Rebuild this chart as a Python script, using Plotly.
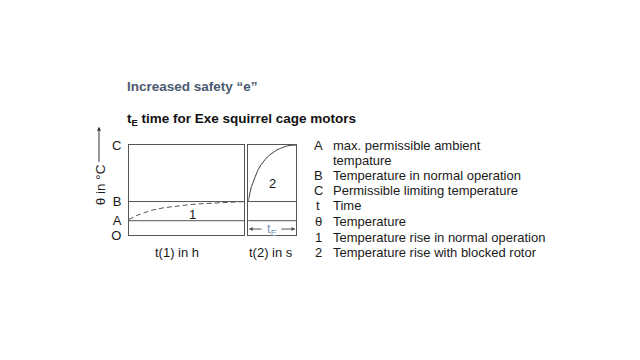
import plotly.graph_objects as go

W, H = 640, 360

# Temperature levels (arbitrary units) and their labels
level_names = ['O', 'A', 'B', 'C']
level_vals = [0, 15, 35, 94]

# Curve 1: temperature rise in normal operation (t(1) in h, arbitrary units)
t1 = [0, 0.25, 0.5, 1, 1.5, 2, 3, 4, 5, 6, 7, 8, 9, 10]
theta1 = [16.3, 18, 19.5, 22, 24.2, 26, 28.5, 30.3, 31.4, 32.5, 33.3, 33.9, 34.4, 35]

# Curve 2: temperature rise with blocked rotor (t(2) in s, arbitrary units)
t2 = [0, 0.1, 0.3, 0.6, 1, 1.5, 2, 2.5, 3, 3.5, 4, 5, 6, 7, 8, 9, 10]
theta2 = [35, 38, 43, 49.5, 55, 61.5, 67.5, 72, 75.5, 78.7, 81.5, 85.5, 88.8, 91, 92.8, 93.7, 94]

legend_keys = ['A', '', 'B', 'C', 't', 'θ', '1', '2']
legend_texts = ['max. permissible ambient', 'tempature', 'Temperature in normal operation',
                'Permissible limiting temperature', 'Time', 'Temperature',
                'Temperature rise in normal operation', 'Temperature rise with blocked rotor']
legend_rows_px = [144, 160, 175.5, 191.5, 207.5, 223.5, 240, 256]

title1 = 'Increased safety “e”'
title2 = 't<sub>E</sub> time for Exe squirrel cage motors'
xlabel1 = 't(1) in h'
xlabel2 = 't(2) in s'
ylabel = 'θ in °C'

FONT = 'Liberation Sans, Arial, sans-serif'
LINE = '#555555'
TXT = '#1a1a1a'


def px(x):
    return x / W


def py(y):
    return 1 - y / H


fig = go.Figure()
fig.add_trace(go.Scatter(x=t1, y=theta1, xaxis='x', yaxis='y', mode='lines',
                         line=dict(color='#555555', width=1, dash='5px,3px'),
                         hoverinfo='skip'))
fig.add_trace(go.Scatter(x=t2, y=theta2, xaxis='x2', yaxis='y2', mode='lines',
                         line=dict(color='#333333', width=1, shape='spline', smoothing=0.6),
                         hoverinfo='skip'))

ax_common = dict(range=[0, 10], showline=True, mirror=True, linecolor=LINE, linewidth=1,
                 showgrid=False, zeroline=False, showticklabels=False, ticks='', fixedrange=True)
y_dom = [py(238), py(144)]

fig.update_layout(
    width=W, height=H, margin=dict(l=0, r=0, t=0, b=0),
    paper_bgcolor='white', plot_bgcolor='white', showlegend=False,
    font=dict(family=FONT, size=13, color=TXT),
    xaxis=dict(domain=[px(129), px(244.3)], anchor='y', **ax_common),
    xaxis2=dict(domain=[px(248.3), px(296)], anchor='y2', **ax_common),
    yaxis=dict(domain=y_dom, anchor='x', range=[0, 94], showline=True, mirror=True,
               linecolor=LINE, linewidth=1, showgrid=False, zeroline=False,
               tickvals=level_vals, ticktext=level_names, ticks='', ticklabelstandoff=4,
               tickfont=dict(size=13, color=TXT), fixedrange=True),
    yaxis2=dict(domain=y_dom, anchor='x2', range=[0, 94], showline=True, mirror=True,
                linecolor=LINE, linewidth=1, showgrid=False, zeroline=False,
                showticklabels=False, ticks='', fixedrange=True),
)

# Horizontal level lines A and B in both panels
for lv in level_vals[1:3]:
    for xr, yr in (('x domain', 'y'), ('x2 domain', 'y2')):
        fig.add_shape(type='line', xref=xr, yref=yr, x0=0, x1=1, y0=lv, y1=lv,
                      line=dict(color=LINE, width=1))

ann = []
ann.append(dict(x=px(125), y=py(83), xref='paper', yref='paper', text='<b>' + title1 + '</b>',
                showarrow=False, xanchor='left', yanchor='middle',
                font=dict(size=13.5, color='#4b5a70')))
ann.append(dict(x=px(125), y=py(117), xref='paper', yref='paper', text='<b>' + title2 + '</b>',
                showarrow=False, xanchor='left', yanchor='middle',
                font=dict(size=13.5, color='#111111')))

# curve labels
ann.append(dict(x=5.54, y=22, xref='x', yref='y', text='1', showarrow=False,
                xanchor='center', yanchor='middle', font=dict(size=13, color=TXT)))
ann.append(dict(x=5, y=54, xref='x2', yref='y2', text='2', showarrow=False,
                xanchor='center', yanchor='middle', font=dict(size=13, color=TXT)))

# t_E double arrow
ann.append(dict(x=0.1, y=6.3, ax=3.1, ay=6.3, xref='x2', yref='y2', axref='x2', ayref='y2',
                text=' ', showarrow=True, arrowhead=2, arrowsize=0.8, arrowwidth=1,
                arrowcolor=LINE, font=dict(size=1)))
ann.append(dict(x=9.9, y=6.3, ax=6.6, ay=6.3, xref='x2', yref='y2', axref='x2', ayref='y2',
                text=' ', showarrow=True, arrowhead=2, arrowsize=0.8, arrowwidth=1,
                arrowcolor=LINE, font=dict(size=1)))
ann.append(dict(x=4.9, y=6.3, xref='x2', yref='y2', text='t<sub>E</sub>', showarrow=False,
                xanchor='center', yanchor='middle', font=dict(size=13, color='#7f92b5')))

# axis labels
ann.append(dict(x=4.17, y=py(256), xref='x', yref='paper', text=xlabel1, showarrow=False,
                xanchor='center', yanchor='middle', font=dict(size=13, color=TXT)))
ann.append(dict(x=4.76, y=py(256), xref='x2', yref='paper', text=xlabel2, showarrow=False,
                xanchor='center', yanchor='middle', font=dict(size=13, color=TXT)))

# vertical theta arrow
ann.append(dict(x=px(99), y=py(125), xref='paper', yref='paper', ax=0, ay=37, text=' ',
                showarrow=True, arrowhead=2, arrowsize=0.8, arrowwidth=1, arrowcolor='#333333',
                font=dict(size=1)))
ann.append(dict(x=px(100), y=py(186), xref='paper', yref='paper', text=ylabel, textangle=-90,
                xanchor='center', yanchor='middle',
                showarrow=False, font=dict(size=13.5, color=TXT)))

# explanation list
for k, t, r in zip(legend_keys, legend_texts, legend_rows_px):
    if k:
        ann.append(dict(x=px(318), y=py(r), xref='paper', yref='paper', text=k, showarrow=False,
                        xanchor='center', yanchor='middle', font=dict(size=13, color=TXT)))
    ann.append(dict(x=px(331), y=py(r), xref='paper', yref='paper', text=t, showarrow=False,
                    xanchor='left', yanchor='middle', font=dict(size=13, color=TXT)))

fig.update_layout(annotations=ann)
fig.write_html('out.html', config={'displayModeBar': False})
